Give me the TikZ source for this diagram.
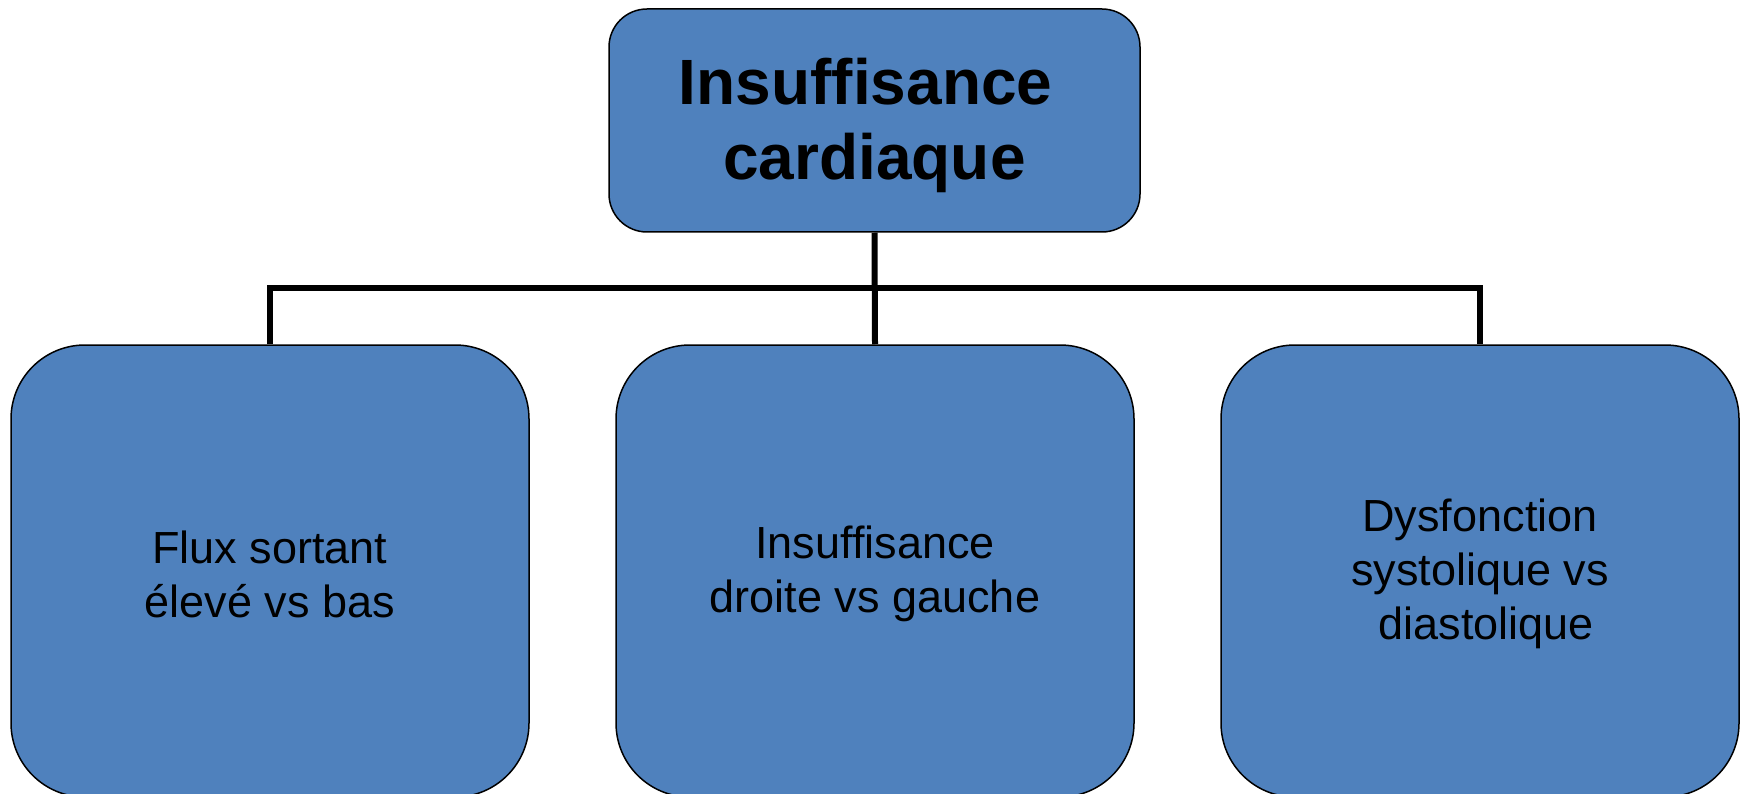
\documentclass[tikz,border=0pt]{standalone}
\usepackage{fontspec}
\setmainfont{Liberation Sans}
\definecolor{boxblue}{RGB}{79,129,189}
\begin{document}
\begin{tikzpicture}[x=1pt,y=-1pt,
  topbox/.style={draw=black,line width=1.5pt,fill=boxblue,rounded corners=38pt,
    minimum width=531pt,minimum height=223pt,inner sep=0pt},
  toptext/.style={align=center,inner sep=0pt,font=\fontsize{64}{75}\selectfont\bfseries},
  subbox/.style={draw=black,line width=1.5pt,fill=boxblue,rounded corners=74pt,
    minimum width=518pt,minimum height=452pt,inner sep=0pt},
  subtext/.style={align=center,inner sep=0pt,font=\fontsize{45}{54}\selectfont},
  conn/.style={draw=black,line width=6pt}]
\useasboundingbox (0,0) rectangle (1747,794);
\node[topbox] (top) at (874.5,120.5) {};
\node[toptext] (toptxt) at ([yshift=-5pt]top.center) {Insuffisance\hphantom{\ }\\cardiaque};
\node[subbox] (left) at (270,571) {};
\node[subbox] (mid) at (875,571) {};
\node[subbox] (right) at (1480,571) {};
\node[subtext] (lefttxt) at ([yshift=-3pt]left.center) {Flux sortant\\élevé vs bas};
\node[subtext] (midtxt) at ([yshift=-3pt]mid.center) {Insuffisance\\droite vs gauche};
\node[subtext] (righttxt) at ([yshift=-3pt]right.center) {Dysfonction\\systolique vs\\\hphantom{\ }diastolique};
\coordinate (bus) at (0,288);
\draw[conn] (top.south) -- (mid.north);
\draw[conn] (left.north) -- (left.north |- bus) -- (right.north |- bus) -- (right.north);
\end{tikzpicture}
\end{document}
